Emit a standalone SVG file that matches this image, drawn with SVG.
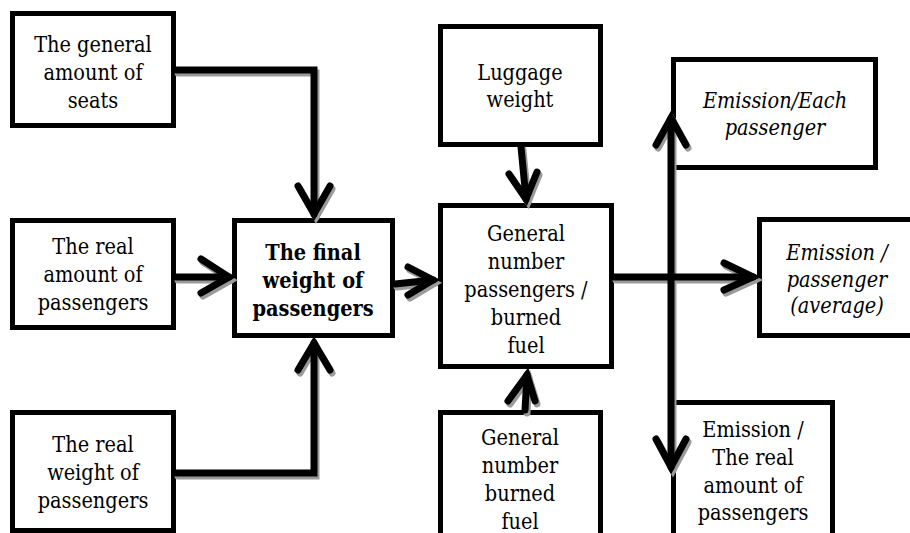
<svg xmlns="http://www.w3.org/2000/svg" xmlns:xlink="http://www.w3.org/1999/xlink" width="910" height="533" viewBox="0 0 910 533">
<style>
.box{fill:#fff;stroke:#000;stroke-width:5}
text{font-family:'DejaVu Serif Condensed','DejaVu Serif','Liberation Serif',serif;font-stretch:condensed;font-size:21.5px;fill:#000;text-anchor:middle}
.b{font-weight:bold}
.i{font-style:italic}
.c{fill:none;stroke-width:7;stroke-linecap:round;stroke-linejoin:miter}
</style>
<defs>
<g id="conn">
<path d="M176,70 H314 V214"/>
<path d="M298,186 L314,214 L330,186"/>
<path d="M176,277 H229"/>
<path d="M201,259 L229,277 L201,293"/>
<path d="M176,473 H314 V343"/>
<path d="M298,370 L314,343 L330,370"/>
<path d="M395,284 L433,280"/>
<path d="M408,267 L433,280 L408,295"/>
<path d="M521,147 L526,199"/>
<path d="M509,174 L526,199 L537,172"/>
<path d="M525,410 L527,375"/>
<path d="M508,401 L527,375 L535,401"/>
<path d="M614,277 H753"/>
<path d="M724,263 L753,277 L724,290"/>
<path d="M671,118 V467"/>
<path d="M656,145 L671,118 L686,145"/>
<path d="M656,439 L671,467 L686,439"/>
</g>
</defs>
<g id="nodes">
<g id="seats"><rect class="box" x="12.5" y="13.5" width="161" height="112"/>
<text x="93" y="52">The general</text><text x="93" y="80">amount of</text><text x="93" y="108">seats</text></g>
<g id="realamount"><rect class="box" x="12.5" y="220.5" width="161" height="107"/>
<text x="93" y="254">The real</text><text x="93" y="282">amount of</text><text x="93" y="310">passengers</text></g>
<g id="realweight"><rect class="box" x="12.5" y="412.5" width="161" height="118"/>
<text x="93" y="452">The real</text><text x="93" y="480">weight of</text><text x="93" y="508">passengers</text></g>
<g id="final"><rect class="box" x="234.5" y="220.5" width="158" height="115"/>
<text class="b" x="313" y="260">The final</text><text class="b" x="313" y="288">weight of</text><text class="b" x="313" y="316">passengers</text></g>
<g id="luggage"><rect class="box" x="440.5" y="26.5" width="160" height="118"/>
<text x="520" y="80">Luggage</text><text x="520" y="107">weight</text></g>
<g id="general"><rect class="box" x="440.5" y="205.5" width="171" height="161"/>
<text x="526" y="241">General</text><text x="526" y="269">number</text><text x="526" y="297">passengers /</text><text x="526" y="325">burned</text><text x="526" y="353">fuel</text></g>
<g id="fuel"><rect class="box" x="440.5" y="412.5" width="160" height="130"/>
<text x="520" y="445">General</text><text x="520" y="473">number</text><text x="520" y="501">burned</text><text x="520" y="529">fuel</text></g>
<g id="each"><rect class="box" x="673.5" y="59.5" width="202" height="108"/>
<text class="i" x="775" y="108">Emission/Each</text><text class="i" x="775" y="135">passenger</text></g>
<g id="average"><rect class="box" x="759.5" y="219.5" width="160" height="116"/>
<text class="i" x="837" y="260">Emission /</text><text class="i" x="837" y="287">passenger</text><text class="i" x="837" y="313">(average)</text></g>
<g id="realemission"><rect class="box" x="673.5" y="402.5" width="159" height="140"/>
<text x="753" y="437">Emission /</text><text x="753" y="465">The real</text><text x="753" y="493">amount of</text><text x="753" y="520">passengers</text></g>
</g>
<g id="connectors">
<use xlink:href="#conn" class="c" stroke="#9a9a9a" transform="translate(2,3)"/>
<use xlink:href="#conn" class="c" stroke="#000"/>
</g>
</svg>
